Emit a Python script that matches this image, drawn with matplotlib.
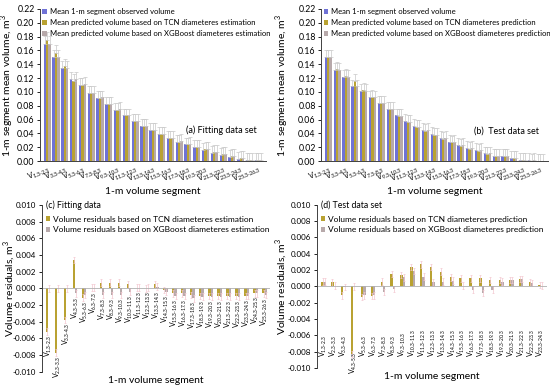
import matplotlib
matplotlib.use("Agg")
import matplotlib.pyplot as plt
import numpy as np

plt.rcParams["font.family"] = ["Lato", "DejaVu Sans"]
plt.rcParams["mathtext.fontset"] = "custom"
plt.rcParams["mathtext.rm"] = "Lato"

# --- data -------------------------------------------------------------------
seg_fit = [f"{a}.3-{a + 1}.3" for a in range(1, 26)]          # V1.3-2.3 ... V25.3-26.3
seg_test = [f"{a}.3-{a + 1}.3" for a in range(1, 24)]         # V1.3-2.3 ... V23.3-24.3

obs_fit = [0.170, 0.150, 0.134, 0.119, 0.110, 0.099, 0.091, 0.082, 0.074, 0.066, 0.058, 0.051, 0.045,
           0.039, 0.033, 0.028, 0.024, 0.020, 0.016, 0.012, 0.009, 0.006, 0.003, 0.002, 0.001]
tcn_fit = [0.175, 0.157, 0.137, 0.116, 0.110, 0.099, 0.091, 0.082, 0.074, 0.066, 0.058, 0.051, 0.045,
           0.039, 0.033, 0.028, 0.024, 0.020, 0.017, 0.013, 0.010, 0.007, 0.004, 0.002, 0.001]
xgb_fit = [0.170, 0.150, 0.134, 0.119, 0.111, 0.099, 0.092, 0.083, 0.075, 0.066, 0.058, 0.051, 0.045,
           0.039, 0.034, 0.029, 0.025, 0.021, 0.017, 0.013, 0.010, 0.007, 0.004, 0.002, 0.002]
err_fit = [0.011, 0.011, 0.011, 0.010, 0.010, 0.010, 0.010, 0.010, 0.010, 0.010, 0.010, 0.010, 0.010,
           0.010, 0.010, 0.010, 0.010, 0.010, 0.010, 0.010, 0.010, 0.010, 0.010, 0.010, 0.010]

obs_test = [0.150, 0.132, 0.122, 0.108, 0.102, 0.092, 0.084, 0.075, 0.066, 0.058, 0.051, 0.045, 0.039,
            0.033, 0.028, 0.023, 0.019, 0.016, 0.011, 0.008, 0.008, 0.005, 0.002, 0.001, 0.000]
tcn_test = [0.150, 0.133, 0.123, 0.116, 0.103, 0.093, 0.084, 0.075, 0.065, 0.057, 0.050, 0.044, 0.038,
            0.032, 0.027, 0.022, 0.018, 0.015, 0.010, 0.008, 0.007, 0.005, 0.001, 0.000, 0.000]
xgb_test = [0.150, 0.132, 0.122, 0.108, 0.102, 0.092, 0.084, 0.075, 0.065, 0.057, 0.050, 0.045, 0.038,
            0.033, 0.028, 0.023, 0.019, 0.016, 0.011, 0.008, 0.007, 0.005, 0.002, 0.001, 0.000]
err_test = [0.010, 0.010, 0.010, 0.010, 0.010, 0.010, 0.010, 0.010, 0.010, 0.010, 0.010, 0.010, 0.010,
            0.010, 0.010, 0.010, 0.010, 0.010, 0.010, 0.010, 0.010, 0.010, 0.010, 0.010, 0.010]

res_tcn_fit = [-0.0052, -0.0077, -0.0038, 0.0034, -0.0011, 0.0001, 0.0007, 0.0007, 0.0007, 0.0005,
               0.0001, 0.0000, 0.0005, -0.0002, -0.0006, -0.0006, -0.0008, -0.0009, -0.0009, -0.0009,
               -0.0009, -0.0009, -0.0009, -0.0006, -0.0006]
res_xgb_fit = [0.0000, 0.0000, 0.0000, -0.0006, -0.0008, 0.0001, -0.0008, -0.0008, -0.0008, -0.0004,
               0.0001, 0.0001, 0.0002, -0.0004, -0.0009, -0.0009, -0.0012, -0.0010, -0.0010, -0.0010,
               -0.0010, -0.0010, -0.0009, -0.0006, -0.0008]
res_tcn_test = [0.0006, 0.0005, -0.0011, -0.0083, -0.0013, -0.0012, 0.0006, 0.0015, 0.0014, 0.0024,
                0.0027, 0.0024, 0.0018, 0.0011, 0.0010, 0.0010, 0.0010, 0.0008, 0.0008, 0.0008,
                0.0009, 0.0005, 0.0002]
res_xgb_test = [0.0006, 0.0001, -0.0001, 0.0000, -0.0011, -0.0011, -0.0007, -0.0003, 0.0011, 0.0019,
                0.0012, 0.0005, 0.0006, 0.0007, 0.0001, -0.0004, -0.0008, -0.0004, 0.0006, 0.0008,
                0.0009, 0.0004, 0.0001]
res_err = 0.0004

C_OBS, C_TCN, C_XGB = "#6f72d6", "#b9a232", "#b7a9aa"
C_ERR, C_RERR = "#c8c8c8", "#f3c6cf"


def seg_label(s):
    return r"V$_{\mathregular{" + s.replace("-", "\u2010") + "}}$"


def style_left(ax, size):
    for s in ("top", "right"):
        ax.spines[s].set_visible(False)
    for s in ("left", "bottom"):
        ax.spines[s].set_linewidth(0.7)
        ax.spines[s].set_color("#404040")
    ax.tick_params(axis="y", length=2, width=0.6, pad=2, labelsize=size)


def volume_panel(ax, obs, tcn, xgb, err, segs, labels, tag, ylab_x):
    x = np.arange(len(obs))
    w = 0.27
    kw = dict(capsize=1.2, error_kw=dict(ecolor=C_ERR, elinewidth=0.5, capthick=0.5))
    zero = np.zeros(len(err))
    ax.bar(x - w, obs, w, color=C_OBS, yerr=[zero, err], label=labels[0], **kw)
    ax.bar(x, tcn, w, color=C_TCN, yerr=[zero, err], label=labels[1], **kw)
    ax.bar(x + w, xgb, w, color=C_XGB, yerr=[zero, err], label=labels[2], **kw)
    ax.set_xlim(-0.8, len(obs) - 0.1)
    ax.set_ylim(0, 0.22)
    yt = np.arange(0, 0.221, 0.02)
    ax.set_yticks(yt)
    ax.set_yticklabels([f"{v:.2f}" for v in yt])
    ax.set_xticks(x[::2])
    ax.set_xticklabels([seg_label(s) for s in segs[::2]], rotation=22, ha="right",
                       rotation_mode="anchor", fontsize=5.4)
    ax.tick_params(axis="x", length=0, pad=2)
    style_left(ax, 6.3)
    ax.set_ylabel("1-m segment mean volume, m$^3$", fontsize=7.5)
    ax.yaxis.set_label_coords(ylab_x, 0.5)
    ax.set_xlabel("1-m volume segment", fontsize=7.5, labelpad=1)
    ax.legend(loc="upper left", bbox_to_anchor=(-0.01, 1.035), frameon=False, fontsize=5.5,
              handlelength=0.6, handleheight=0.6, handletextpad=0.4, labelspacing=0.5,
              borderpad=0.1)
    ax.text(0.96, 0.2, tag, transform=ax.transAxes, ha="right", va="center", fontsize=6.5)


def residual_panel(ax, tcn, xgb, segs, labels, tag, label_rule, ylab_x):
    x = np.arange(len(tcn))
    w = 0.24
    kw = dict(yerr=res_err, capsize=1.0, error_kw=dict(ecolor=C_RERR, elinewidth=0.5, capthick=0.5))
    ax.bar(x - w / 2, tcn, w, color=C_TCN, label=labels[0], **kw)
    ax.bar(x + w / 2, xgb, w, color=C_XGB, label=labels[1], **kw)
    ax.axhline(0, color="#b0b0b0", lw=0.6)
    ax.set_xlim(-0.7, len(tcn) - 0.4)
    ax.set_ylim(-0.010, 0.010)
    yt = np.arange(-0.010, 0.0101, 0.002)
    ax.set_yticks(yt)
    ax.set_yticklabels([f"{v:.3f}" if abs(v) > 1e-9 else "0.000" for v in yt])
    ax.set_xticks([])
    style_left(ax, 5.8)
    ax.spines["bottom"].set_visible(False)
    for i, s in enumerate(segs):
        low = min(0.0, tcn[i], xgb[i])
        y, va = label_rule(low)
        ax.text(i, y, seg_label(s), rotation=90, ha="center", va=va, fontsize=5.0)
    ax.set_ylabel("Volume residuals, m$^3$", fontsize=7.5)
    ax.yaxis.set_label_coords(ylab_x, 0.5)
    ax.set_xlabel("1-m volume segment", fontsize=7.5, labelpad=3)
    ax.text(0.02, 1.0, tag, transform=ax.transAxes, ha="left", va="center", fontsize=6.3)
    ax.legend(loc="upper left", bbox_to_anchor=(-0.005, 0.965), frameon=False, fontsize=6.0,
              handlelength=0.5, handleheight=0.6, handletextpad=0.4, labelspacing=0.45,
              borderpad=0.1)


fig = plt.figure(figsize=(5.5, 3.91), dpi=100)
ax_a = fig.add_axes([0.073, 0.588, 0.411, 0.389])
ax_b = fig.add_axes([0.584, 0.588, 0.413, 0.389])
ax_c = fig.add_axes([0.076, 0.049, 0.415, 0.427])
ax_d = fig.add_axes([0.576, 0.059, 0.418, 0.417])

volume_panel(ax_a, obs_fit, tcn_fit, xgb_fit, err_fit, seg_fit,
             ["Mean 1-m segment observed volume",
              "Mean predicted volume based on TCN diameteres estimation",
              "Mean predicted volume based on XGBoost diameteres estimation"],
             "(a) Fitting data set", -0.106)
volume_panel(ax_b, obs_test, tcn_test, xgb_test, err_test, seg_fit,
             ["Mean 1-m segment observed volume",
              "Mean predicted volume based on TCN diameteres prediction",
              "Mean predicted volume based on XGBoost diameteres prediction"],
             "(b)  Test data set", -0.135)

residual_panel(ax_c, res_tcn_fit, res_xgb_fit, seg_fit,
               ["Volume residuals based on TCN diameteres estimation",
                "Volume residuals based on XGBoost diameteres estimation"],
               "(c) Fitting data", lambda low: (low - 0.0004, "top"), -0.11)
residual_panel(ax_d, res_tcn_test, res_xgb_test, seg_test,
               ["Volume residuals based on TCN diameteres prediction",
                "Volume residuals based on XGBoost diameteres prediction"],
               "(d) Test data set", lambda low: (min(-0.0087, low - 0.0025), "bottom"), -0.12)

fig.savefig("out.png", dpi=100)
